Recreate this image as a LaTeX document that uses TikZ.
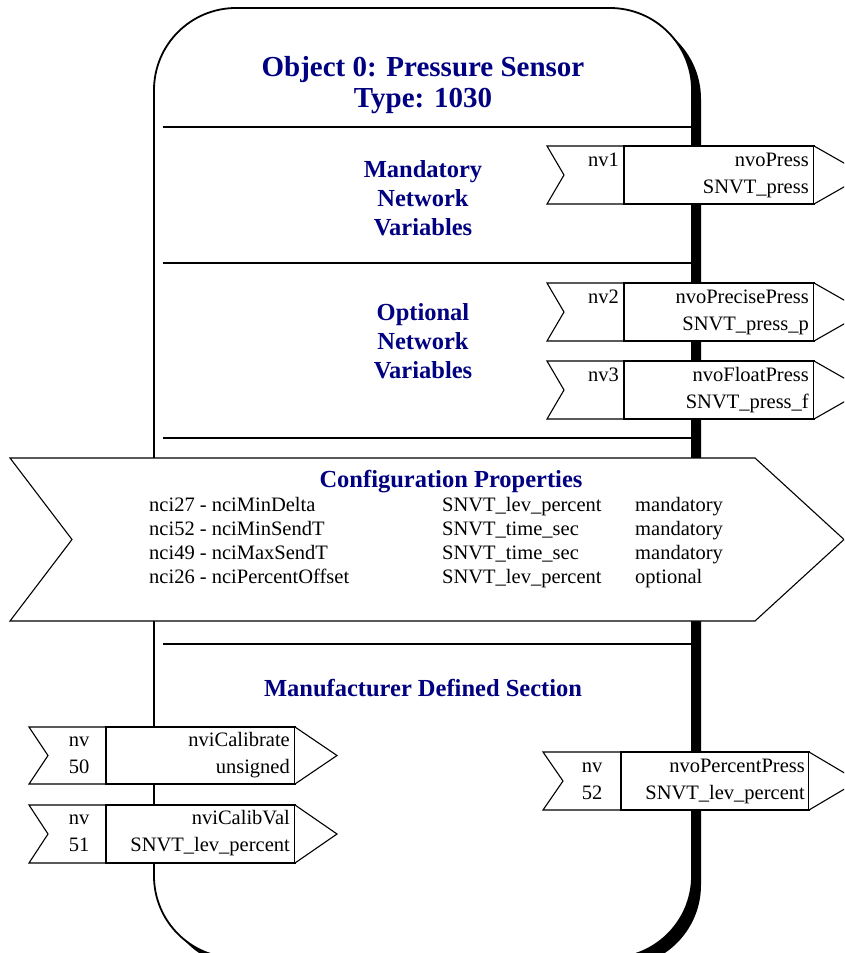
\documentclass[tikz,border=0pt]{standalone}
\usepackage{fontspec}
\setmainfont{Liberation Serif}
\definecolor{hdrblue}{RGB}{0,0,128}
\tikzset{
  outline/.style={draw=black, line width=1.1pt, fill=white, line join=miter},
  divider/.style={draw=black, line width=1.6pt},
  txt/.style={inner sep=0pt, font=\fontsize{20.5}{24}\selectfont},
  hdr/.style={inner sep=0pt, text=hdrblue, font=\bfseries\fontsize{24.5}{29}\selectfont},
  ttl/.style={inner sep=0pt, text=hdrblue, font=\bfseries\fontsize{29}{31}\selectfont},
}
% notched tail, name box and arrow head of one network variable
% #1 left x, #2 top y, #3 bottom y, #4 notch depth, #5 divider x, #6 box right x, #7 tip x
\newcommand{\nvarrow}[7]{%
  \draw[outline] (#1,#2) -- (#5,#2) -- (#5,#3) -- (#1,#3) -- ({#1+#4},{(#2+#3)/2}) -- cycle;
  \draw[outline] (#5,#2) rectangle (#6,#3);
  \draw[outline] (#6,#2) -- (#7,{(#2+#3)/2}) -- (#6,#3);
}
\begin{document}
\begin{tikzpicture}[x=1pt,y=-1pt]
\useasboundingbox (0,0) rectangle (844,953);
\clip (0,0) rectangle (844,953);
\fill[white] (0,0) rectangle (844,953);

% object body with its drop shadow
\fill[black, rounded corners=82pt] (163,17) rectangle (701,967);
\filldraw[fill=white, draw=black, line width=1.8pt, rounded corners=82pt] (154,8) rectangle (692,958);

% section dividers
\foreach \yy in {127,263,438,644} \draw[divider] (163,\yy) -- (691,\yy);

% title
\node[ttl, anchor=base] (title1) at (423,76) {Object 0: Pressure Sensor};
\node[ttl, anchor=base] (title2) at (423,107) {Type: 1030};

% mandatory network variables
\node[hdr, anchor=base] (mand1) at (423,177) {Mandatory};
\node[hdr, anchor=base] (mand2) at (423,206) {Network};
\node[hdr, anchor=base] (mand3) at (423,235) {Variables};
\nvarrow{547}{146}{204}{17}{624}{814}{865}
\node[txt, anchor=base east] (nv1) at (619,166) {nv1};
\node[txt, anchor=base east] (nv1a) at (809,166) {nvoPress};
\node[txt, anchor=base east] (nv1b) at (809,193) {SNVT\_press};

% optional network variables
\node[hdr, anchor=base] (opt1) at (423,320) {Optional};
\node[hdr, anchor=base] (opt2) at (423,349) {Network};
\node[hdr, anchor=base] (opt3) at (423,378) {Variables};
\nvarrow{547}{283}{341}{17}{624}{814}{865}
\node[txt, anchor=base east] (nv2) at (619,303) {nv2};
\node[txt, anchor=base east] (nv2a) at (809,303) {nvoPrecisePress};
\node[txt, anchor=base east] (nv2b) at (809,330) {SNVT\_press\_p};
\nvarrow{547}{361}{419}{17}{624}{814}{865}
\node[txt, anchor=base east] (nv3) at (619,381) {nv3};
\node[txt, anchor=base east] (nv3a) at (809,381) {nvoFloatPress};
\node[txt, anchor=base east] (nv3b) at (809,408) {SNVT\_press\_f};

% configuration properties
\draw[outline] (10,458) -- (755,458) -- (844,539.5) -- (755,621) -- (10,621) -- (72,539.5) -- cycle;
\node[hdr, anchor=base] (cfg) at (451,487) {Configuration Properties};
\node[txt, anchor=base west] (c1a) at (149,511) {nci27 - nciMinDelta};
\node[txt, anchor=base west] (c1b) at (442,511) {SNVT\_lev\_percent};
\node[txt, anchor=base west] (c1c) at (635,511) {mandatory};
\node[txt, anchor=base west] (c2a) at (149,535) {nci52 - nciMinSendT};
\node[txt, anchor=base west] (c2b) at (442,535) {SNVT\_time\_sec};
\node[txt, anchor=base west] (c2c) at (635,535) {mandatory};
\node[txt, anchor=base west] (c3a) at (149,559) {nci49 - nciMaxSendT};
\node[txt, anchor=base west] (c3b) at (442,559) {SNVT\_time\_sec};
\node[txt, anchor=base west] (c3c) at (635,559) {mandatory};
\node[txt, anchor=base west] (c4a) at (149,583) {nci26 - nciPercentOffset};
\node[txt, anchor=base west] (c4b) at (442,583) {SNVT\_lev\_percent};
\node[txt, anchor=base west] (c4c) at (635,583) {optional};

% manufacturer defined section
\node[hdr, anchor=base] (mfr) at (423,696) {Manufacturer Defined Section};
\nvarrow{29}{727}{784}{19}{106}{295}{337}
\node[txt, anchor=base] (nv50a) at (79,746) {nv};
\node[txt, anchor=base] (nv50b) at (79,773) {50};
\node[txt, anchor=base east] (nv50c) at (290,746) {nviCalibrate};
\node[txt, anchor=base east] (nv50d) at (290,773) {unsigned};
\nvarrow{29}{805}{863}{19}{106}{295}{337}
\node[txt, anchor=base] (nv51a) at (79,824) {nv};
\node[txt, anchor=base] (nv51b) at (79,851) {51};
\node[txt, anchor=base east] (nv51c) at (290,824) {nviCalibVal};
\node[txt, anchor=base east] (nv51d) at (290,851) {SNVT\_lev\_percent};
\nvarrow{543}{752}{810}{20}{621}{809}{858}
\node[txt, anchor=base] (nv52a) at (592,772) {nv};
\node[txt, anchor=base] (nv52b) at (592,799) {52};
\node[txt, anchor=base east] (nv52c) at (805,772) {nvoPercentPress};
\node[txt, anchor=base east] (nv52d) at (805,799) {SNVT\_lev\_percent};
\end{tikzpicture}
\end{document}
